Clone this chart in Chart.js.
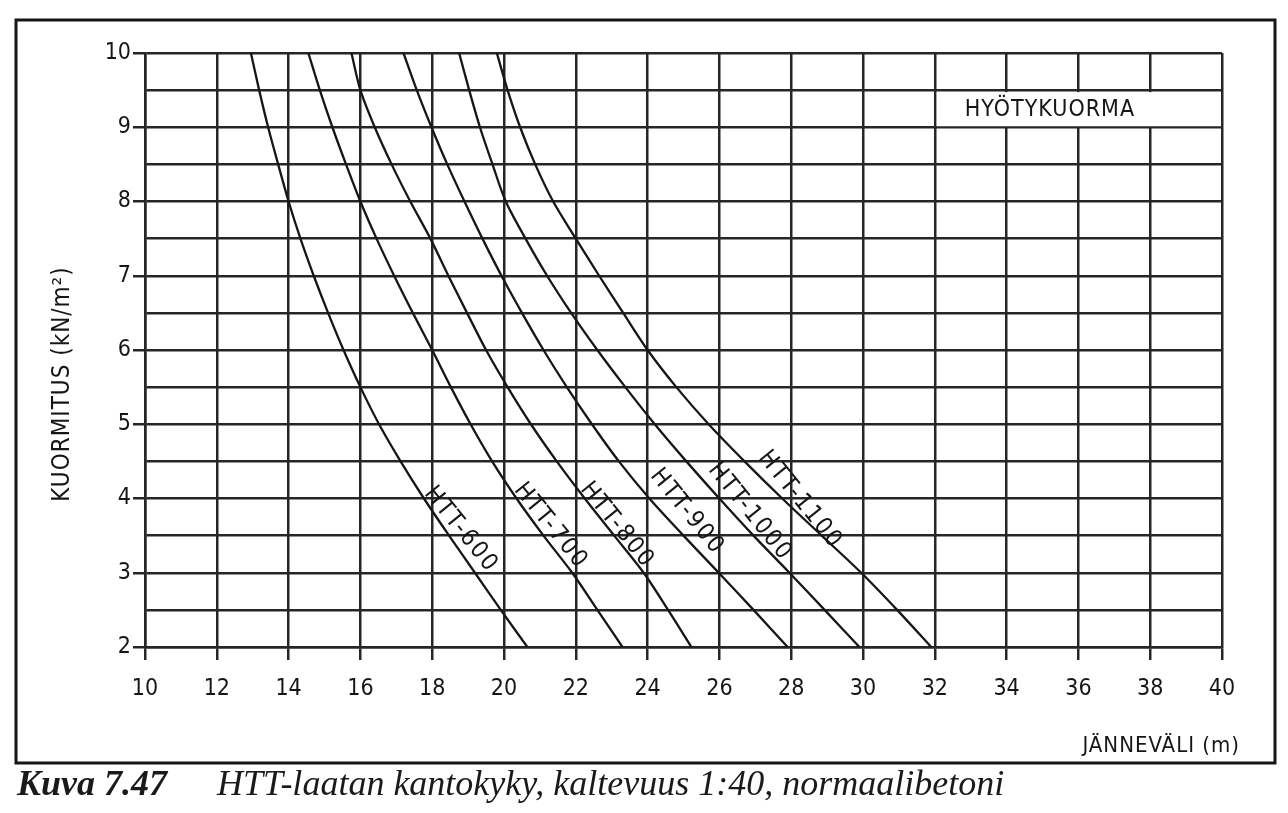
<!DOCTYPE html>
<html>
<head>
<meta charset="utf-8">
<title>HTT-laatan kantokyky</title>
<script src="https://cdn.jsdelivr.net/npm/chart.js@4"></script>
<style>
  html, body { margin: 0; padding: 0; background: #fff; }
  #wrap { position: relative; width: 1288px; height: 813px; overflow: hidden; }
  #chart { position: absolute; left: 0; top: 0; }
  #caption {
    position: absolute; left: 17px; top: 762px;
    font-family: "Liberation Serif", "DejaVu Serif", serif;
    font-style: italic; font-size: 36px; color: #1a1a1a; white-space: nowrap;
  }
  #caption b { font-weight: bold; margin-right: 50px; }
</style>
</head>
<body>
<div id="wrap">
  <canvas id="chart" width="1288" height="813"></canvas>
  <div id="caption"><b>Kuva 7.47</b>HTT-laatan kantokyky, kaltevuus 1:40, normaalibetoni</div>
</div>
<script>
// load levels (kN/m2), shared by every curve
const loads = [10, 9.5, 9, 8.5, 8, 7.5, 7, 6.5, 6, 5.5, 5, 4.5, 4, 3.5, 3, 2.5, 2];

// span (m) at each load level
const htt600  = [12.95, 13.18, 13.43, 13.71, 14.0, 14.33, 14.7, 15.1, 15.53, 16.0, 16.52, 17.12, 17.77, 18.47, 19.19, 19.91, 20.65];
const htt700  = [14.55, 14.87, 15.22, 15.6, 16.0, 16.45, 16.94, 17.46, 18.0, 18.52, 19.07, 19.67, 20.35, 21.1, 21.9, 22.6, 23.3];
const htt800  = [15.75, 16.0, 16.4, 16.87, 17.39, 17.95, 18.45, 18.97, 19.5, 20.1, 20.75, 21.47, 22.25, 23.07, 23.89, 24.57, 25.22];
const htt900  = [17.2, 17.57, 17.98, 18.42, 18.9, 19.4, 19.93, 20.5, 21.1, 21.75, 22.45, 23.2, 24.05, 25.0, 25.98, 26.95, 27.9];
const htt1000 = [18.75, 19.03, 19.33, 19.68, 20.05, 20.6, 21.2, 21.87, 22.6, 23.38, 24.2, 25.08, 26.0, 26.95, 27.95, 28.93, 29.9];
const htt1100 = [19.8, 20.1, 20.45, 20.87, 21.37, 22.0, 22.65, 23.32, 24.0, 24.8, 25.7, 26.7, 27.75, 28.85, 29.95, 30.95, 31.9];

const seriesNames = ['HTT-600', 'HTT-700', 'HTT-800', 'HTT-900', 'HTT-1000', 'HTT-1100'];
const seriesSpans = [htt600, htt700, htt800, htt900, htt1000, htt1100];

// where each curve name sits (span, load)
const labelSpan = [18.8, 21.3, 23.15, 25.1, 26.85, 28.25];
const labelLoad = [3.58, 3.63, 3.64, 3.82, 3.82, 3.98];

const xTitle = 'JÄNNEVÄLI (m)';
const yTitle = 'KUORMITUS (kN/m²)';
const boxText = 'HYÖTYKUORMA';

const INK = '#161616';
const GRID = '#262626';
const FONT = '"DejaVu Sans Condensed", "Liberation Sans Narrow", "DejaVu Sans", sans-serif';

const datasets = seriesNames.map((name, i) => ({
  label: name,
  data: loads.map((y, j) => ({ x: seriesSpans[i][j], y })),
  showLine: true,
  borderColor: INK,
  borderWidth: 2.3,
  pointRadius: 0,
  tension: 0.3,
  fill: false
}));

const decor = {
  id: 'decor',
  afterDatasetsDraw(chart) {
    const { ctx } = chart;
    const xs = chart.scales.x, ys = chart.scales.y;
    ctx.save();

    // outer frame
    ctx.strokeStyle = INK;
    ctx.lineWidth = 3;
    ctx.strokeRect(16, 20, 1259, 743);

    // HYÖTYKUORMA box over the grid
    const bx0 = xs.getPixelForValue(32), bx1 = xs.getPixelForValue(40);
    const by0 = ys.getPixelForValue(9.5), by1 = ys.getPixelForValue(9);
    ctx.fillStyle = '#fff';
    ctx.fillRect(bx0 + 2, by0 + 2, bx1 - bx0 - 3, by1 - by0 - 3);
    ctx.fillStyle = INK;
    ctx.font = '23px ' + FONT;
    ctx.letterSpacing = '1px';
    ctx.textAlign = 'left';
    ctx.textBaseline = 'middle';
    ctx.fillText(boxText, bx0 + 30, (by0 + by1) / 2 + 1);

    // curve names, rotated along the lines
    ctx.font = '24px ' + FONT;
    ctx.letterSpacing = '2px';
    ctx.textAlign = 'center';
    ctx.textBaseline = 'middle';
    seriesNames.forEach((name, i) => {
      const px = xs.getPixelForValue(labelSpan[i]);
      const py = ys.getPixelForValue(labelLoad[i]);
      ctx.save();
      ctx.translate(px, py);
      ctx.rotate(51 * Math.PI / 180);
      ctx.fillText(name, 0, 0);
      ctx.restore();
    });

    // axis titles
    ctx.letterSpacing = '1px';
    ctx.font = '24px ' + FONT;
    ctx.save();
    ctx.translate(63, 384);
    ctx.rotate(-Math.PI / 2);
    ctx.textAlign = 'center';
    ctx.fillText(yTitle, 0, 0);
    ctx.restore();

    ctx.font = '22px ' + FONT;
    ctx.textAlign = 'right';
    ctx.fillText(xTitle, 1240, 746);
    ctx.restore();
  }
};

new Chart(document.getElementById('chart'), {
  type: 'scatter',
  data: { datasets },
  plugins: [decor],
  options: {
    responsive: false,
    animation: false,
    layout: { padding: { top: 53, right: 66, left: 0, bottom: 0 } },
    plugins: { legend: { display: false }, tooltip: { enabled: false } },
    scales: {
      x: {
        type: 'linear', min: 10, max: 40,
        ticks: { stepSize: 2, color: INK, font: { family: FONT, size: 23 }, padding: 15, maxRotation: 0, autoSkip: false },
        grid: { color: GRID, lineWidth: 2.5, tickLength: 13, tickColor: GRID },
        border: { color: GRID, width: 2.5 },
        afterFit: s => { s.height = 166; }
      },
      y: {
        type: 'linear', min: 2, max: 10,
        ticks: {
          stepSize: 0.5, color: INK, font: { family: FONT, size: 23 }, padding: 2, autoSkip: false,
          callback: v => Number.isInteger(v) ? String(v) : ''
        },
        grid: {
          color: GRID, lineWidth: 2.5, tickLength: 12,
          tickColor: c => (c.tick && Number.isInteger(c.tick.value)) ? GRID : 'rgba(0,0,0,0)'
        },
        border: { color: GRID, width: 2.5 },
        afterFit: s => { s.width = 145; }
      }
    }
  }
});
</script>
</body>
</html>
